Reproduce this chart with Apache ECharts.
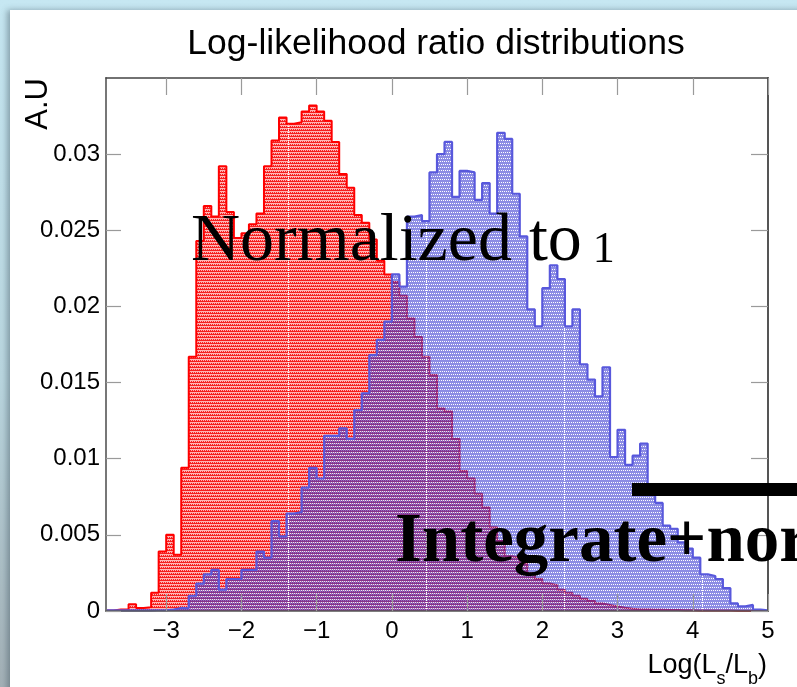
<!DOCTYPE html>
<html>
<head>
<meta charset="utf-8">
<title>Log-likelihood ratio distributions</title>
<script src="https://cdn.jsdelivr.net/npm/echarts@6/dist/echarts.min.js"></script>
<style>
  html, body { margin: 0; padding: 0; width: 797px; height: 687px; overflow: hidden; }
  body { background: linear-gradient(180deg, #c6e7f2 0%, #b9d6df 55%, #a3b0b6 100%); }
  #panel { position: absolute; left: 10px; top: 10px; width: 800px; height: 700px; background: #fff;
           box-shadow: -3px 0 6px rgba(60, 80, 90, 0.45); }
  #chart { position: absolute; left: 0; top: 0; width: 797px; height: 687px; }
</style>
</head>
<body>
<div id="panel"></div>
<div id="chart"></div>
<script>
// Histogram binning: 88 bins of width 0.1 starting at -3.8
const binLow = -3.8;
const binWidth = 0.1;

// Background-like events (red), normalised to unit area
const bkgHist = [
  0.00003, 0.0001, 0.0001, 0.00045, 0.0002, 0.00025, 0.0012, 0.0039, 0.005, 0.0037,
  0.0094, 0.0167, 0.0243, 0.0266, 0.0259, 0.0292, 0.0262, 0.0245, 0.0248, 0.0254,
  0.0261, 0.0292, 0.0309, 0.0324, 0.032, 0.0321, 0.0328, 0.0332, 0.0328, 0.0322,
  0.0308, 0.0287, 0.0278, 0.026, 0.0255, 0.0244, 0.023, 0.0221, 0.0216, 0.0207,
  0.0192, 0.018, 0.0167, 0.0155, 0.0133, 0.0131, 0.0113, 0.0092, 0.0087, 0.0077,
  0.0068, 0.0055, 0.0046, 0.0036, 0.0035, 0.0031, 0.0025, 0.0021, 0.0018, 0.0017,
  0.0014, 0.0012, 0.001, 0.0008, 0.00065, 0.0005, 0.0004, 0.0003, 0.00022, 0.00015,
  0.0001, 0.0001, 0.00008, 0.00008, 0.00006, 0.00006, 0.00005, 0.00005, 0.00004, 0.00004,
  0.00003, 0.00003, 0.00003, 0.00002, 0.00002, 0.00002, 0, 0
];

// Signal-like events (blue), normalised to unit area
const sigHist = [
  0.00004, 0.00004, 0.00004, 0.00004, 0.00004, 0.00004, 0.00005, 0.00005, 0.0001, 0.0002,
  0.00018, 0.001, 0.0018, 0.0024, 0.0027, 0.0014, 0.0021, 0.0021, 0.0027, 0.0027,
  0.0039, 0.0035, 0.0059, 0.0049, 0.0064, 0.0065, 0.0081, 0.0094, 0.0087, 0.0115,
  0.0115, 0.012, 0.0113, 0.0132, 0.0143, 0.0168, 0.0178, 0.019, 0.0221, 0.0213,
  0.0259, 0.026, 0.0256, 0.0288, 0.03, 0.0308, 0.0272, 0.0289, 0.0288, 0.027,
  0.0281, 0.0261, 0.0314, 0.031, 0.0274, 0.0246, 0.0198, 0.0187, 0.0212, 0.0227,
  0.0218, 0.0187, 0.0198, 0.0162, 0.0152, 0.0141, 0.016, 0.0101, 0.0119, 0.0096,
  0.0102, 0.011, 0.0077, 0.0071, 0.0056, 0.0054, 0.0045, 0.0041, 0.0035, 0.0024,
  0.0023, 0.0021, 0.0015, 0.0005, 0.0003, 0.0004, 0.0001, 0.00005
];

const xTicks = [-3, -2, -1, 0, 1, 2, 3, 4, 5];
const yTicks = [0, 0.005, 0.01, 0.015, 0.02, 0.025, 0.03];
const yTickLabels = ['0', '0.005', '0.01', '0.015', '0.02', '0.025', '0.03'];

const xMin = -3.8, xMax = 5.0, yMin = 0, yMax = 0.035;

// Bin contents -> step outline points (left edges plus closing right edge)
function histPoints(vals) {
  const pts = vals.map((v, i) => [+(binLow + i * binWidth).toFixed(2), v]);
  pts.push([+(binLow + vals.length * binWidth).toFixed(2), vals[vals.length - 1]]);
  return pts;
}

// Dotted hatch tile, with the faint dashed seam every 138 px
function hatchPattern(ink, paper, inkRows) {
  const c = document.createElement('canvas');
  c.width = 138; c.height = 6;
  const g = c.getContext('2d');
  g.fillStyle = paper;
  g.fillRect(0, 0, c.width, c.height);
  g.fillStyle = ink;
  for (let y = 0; y < c.height; y++) {
    const row = inkRows[y % inkRows.length];
    for (let x = 0; x < c.width; x++) {
      if (row === 2 || (row === 1 && (x + y) % 2 === 0)) g.fillRect(x, y, 1, 1);
    }
  }
  g.fillStyle = '#ffffff';
  for (let y = 0; y < c.height; y += 2) g.fillRect(12, y, 1, 1);
  return { image: c, repeat: 'repeat' };
}

const chart = echarts.init(document.getElementById('chart'), null, { renderer: 'canvas' });

const SANS = '"Liberation Sans", Arial, Helvetica, sans-serif';
const SERIF = '"Liberation Serif", "Times New Roman", serif';
const measure = document.createElement('canvas').getContext('2d');
function textWidth(t, font) { measure.font = font; return measure.measureText(t).width; }

// Axis title pieces for Log(L_s/L_b), laid out with measured widths
function axisTitlePieces(rightX, baseY) {
  const parts = [
    { t: 'Log(L', size: 27, dy: 0 },
    { t: 's', size: 18, dy: 9 },
    { t: '/L', size: 27, dy: 0 },
    { t: 'b', size: 18, dy: 9 },
    { t: ')', size: 27, dy: 0 }
  ];
  let total = 0;
  parts.forEach(p => { p.w = textWidth(p.t, p.size + 'px ' + SANS); total += p.w; });
  let x = rightX - total;
  return parts.map(p => {
    const el = {
      type: 'text', x: x, y: baseY + p.dy, z: 50,
      style: { text: p.t, font: p.size + 'px ' + SANS, fill: '#000',
               textAlign: 'left', textVerticalAlign: 'bottom', align: 'left', verticalAlign: 'bottom' }
    };
    x += p.w;
    return el;
  });
}

// Serif caption with a short old-style final figure, sharing one baseline
function caption(left, baseline) {
  const big = 68, small = 44;
  const head = 'Normalized to';
  const w = textWidth(head, big + 'px ' + SERIF);
  const mid = s => baseline - 0.3375 * s;
  return [
    { type: 'text', x: left, y: mid(big), z: 60,
      style: { text: head, font: big + 'px ' + SERIF, fill: '#000',
               textAlign: 'left', textVerticalAlign: 'middle', align: 'left', verticalAlign: 'middle' } },
    { type: 'text', x: left + w + 0.16 * big, y: mid(small), z: 60,
      style: { text: '1', font: small + 'px ' + SERIF, fill: '#000',
               textAlign: 'left', textVerticalAlign: 'middle', align: 'left', verticalAlign: 'middle' } }
  ];
}

const tickStyle = { color: '#9a9a9a', width: 1.2 };

const option = {
  animation: false,
  backgroundColor: 'transparent',
  grid: { left: 106, right: 29, top: 78, bottom: 76, show: false },
  xAxis: [
    {
      type: 'value', min: xMin, max: xMax, splitNumber: 9,
      axisLine: { show: true, onZero: false, lineStyle: { color: '#555', width: 1.5 } },
      axisTick: { show: true, inside: true, length: 17, lineStyle: tickStyle, customValues: xTicks },
      axisLabel: {
        show: true, margin: 8, fontSize: 24, fontFamily: SANS, color: '#000', customValues: xTicks,
        formatter: v => (v < 0 ? '\u2212' + Math.abs(v) : String(v))
      },
      splitLine: { show: false }, z: 5
    },
    {
      type: 'value', position: 'top', min: xMin, max: xMax, splitNumber: 9,
      axisLine: { show: true, onZero: false, lineStyle: { color: '#444', width: 1.5 } },
      axisTick: { show: true, inside: true, length: 17, lineStyle: tickStyle, customValues: xTicks },
      axisLabel: { show: false }, splitLine: { show: false }, z: 5
    }
  ],
  yAxis: [
    {
      type: 'value', min: yMin, max: yMax,
      axisLine: { show: true, onZero: false, lineStyle: { color: '#777', width: 2 } },
      axisTick: { show: true, inside: true, length: 15, lineStyle: tickStyle, customValues: yTicks },
      axisLabel: {
        show: true, margin: 6, fontSize: 24, fontFamily: SANS, color: '#000', customValues: yTicks,
        formatter: v => { const k = yTicks.findIndex(t => Math.abs(t - v) < 1e-9); return k >= 0 ? yTickLabels[k] : ''; }
      },
      splitLine: { show: false }, z: 5
    },
    {
      type: 'value', position: 'right', min: yMin, max: yMax,
      axisLine: { show: true, onZero: false, lineStyle: { color: '#555', width: 2 } },
      axisTick: { show: true, inside: true, length: 17, lineStyle: tickStyle, customValues: yTicks },
      axisLabel: { show: false }, splitLine: { show: false }, z: 5
    }
  ],
  series: [
    {
      name: 'bkg', type: 'line', step: 'end', symbol: 'none', xAxisIndex: 0, yAxisIndex: 0,
      data: histPoints(bkgHist),
      lineStyle: { color: '#ff0000', width: 2 },
      areaStyle: { color: hatchPattern('#f52020', '#ffb4b4', [1, 2, 0]), opacity: 1 },
      z: 2
    },
    {
      name: 'sig', type: 'line', step: 'end', symbol: 'none', xAxisIndex: 0, yAxisIndex: 0,
      data: histPoints(sigHist),
      lineStyle: { color: '#5858dc', width: 2.2 },
      areaStyle: { color: hatchPattern('#4040d2', '#ffffff', [2, 2, 1]), opacity: 0.6 },
      z: 3
    }
  ],
  graphic: [
    {
      type: 'text', x: 436, y: 44, z: 50,
      style: { text: 'Log-likelihood ratio distributions', font: '35.5px ' + SANS, fill: '#000',
               textAlign: 'center', textVerticalAlign: 'middle', align: 'center', verticalAlign: 'middle' }
    },
    {
      type: 'text', x: 38.5, y: 78, rotation: Math.PI / 2, z: 50,
      style: { text: 'A.U', font: '31px ' + SANS, fill: '#000',
               textAlign: 'right', textVerticalAlign: 'middle', align: 'right', verticalAlign: 'middle' }
    },
    ...axisTitlePieces(767, 679),
    ...caption(191, 265),
    {
      type: 'rect', z: 60, shape: { x: 632, y: 483, width: 200, height: 13 }, style: { fill: '#000' }
    },
    {
      type: 'text', x: 395, y: 566 - 0.3375 * 69, z: 60,
      style: { text: 'Integrate+nor', font: 'bold 69px ' + SERIF, fill: '#000',
               textAlign: 'left', textVerticalAlign: 'middle', align: 'left', verticalAlign: 'middle' }
    }
  ]
};

chart.setOption(option);
</script>
</body>
</html>
